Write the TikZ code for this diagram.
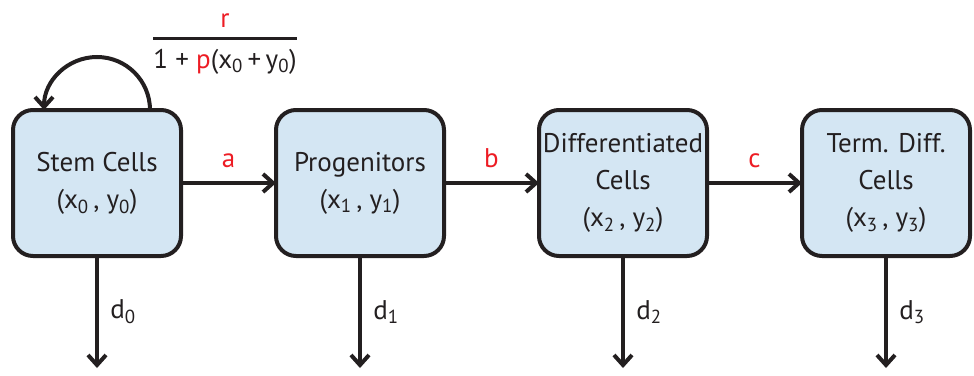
\documentclass[tikz,border=0pt]{standalone}
\usepackage{fontspec}
\setmainfont{PT Sans}
\usepackage{amsmath}
\usetikzlibrary{arrows.meta,positioning}
\definecolor{cellwash}{HTML}{D4E6F3}
\definecolor{ratered}{HTML}{ED1C24}
\definecolor{inkdark}{HTML}{231F20}

\begin{document}
\begin{tikzpicture}[
  x=1pt, y=1pt,
  node distance=95pt,
  every node/.style={font=\fontsize{27}{37}\selectfont, align=center, text=inkdark},
  box/.style={draw=inkdark, line width=4pt, fill=cellwash, rounded corners=20pt, minimum width=168pt, minimum height=146pt, inner sep=2pt, outer sep=0pt},
  arr/.style={-{Straight Barb[length=10pt, width=18pt]}, line width=4pt, draw=inkdark},
  rate/.style={text=ratered}
]
\useasboundingbox (0,0) rectangle (974,-375);
\node[box] (stem) at (97,-183) {Stem Cells\\(x\textsubscript{0}\,, y\textsubscript{0})};
\node[box, right=of stem] (prog) {Progenitors\\(x\textsubscript{1}\,, y\textsubscript{1})};
\node[box, right=of prog] (diff) {Differentiated\\Cells\\(x\textsubscript{2}\,, y\textsubscript{2})};
\node[box, right=of diff] (term) {Term. Diff.\\Cells\\(x\textsubscript{3}\,, y\textsubscript{3})};
% death outflows
\foreach \n/\i in {stem/0, prog/1, diff/2, term/3}{
  \coordinate[below=112pt of \n.south] (sink\i);
  \draw[arr] (\n.south) -- node[right=8pt, pos=0.5] {d\textsubscript{\i}} (sink\i);
}
% transitions
\draw[arr] (stem) -- node[rate, above=10pt] {a} (prog);
\draw[arr] (prog) -- node[rate, above=10pt] {b} (diff);
\draw[arr] (diff) -- node[rate, above=10pt] {c} (term);
% self-renewal
\draw[arr] ([xshift=53pt]stem.north) arc[start angle=0, end angle=180, radius=53pt];
\node (renew) at (225,-44) {$\genfrac{}{}{3pt}{0}{\mbox{\textcolor{ratered}{r}}}{\mbox{1 + \textcolor{ratered}{p}(x\textsubscript{0}\,+\,y\textsubscript{0})}}$};
\end{tikzpicture}
\end{document}
